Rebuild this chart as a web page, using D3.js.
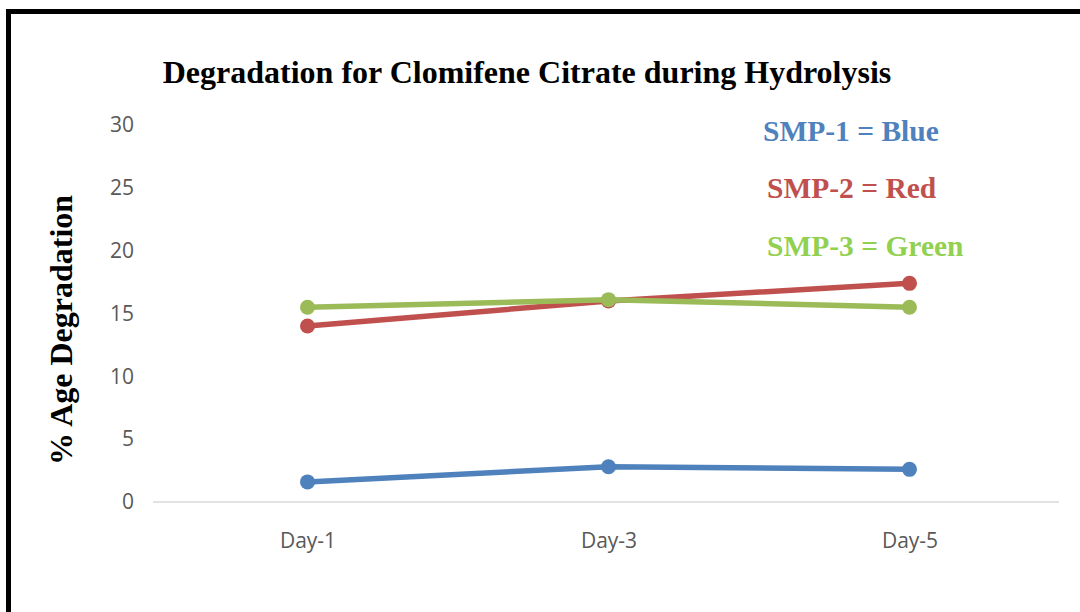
<!DOCTYPE html>
<html>
<head>
<meta charset="utf-8">
<script src="https://cdn.jsdelivr.net/npm/d3@7"></script>
<style>
  html, body { margin: 0; padding: 0; background: #fff; }
  svg { display: block; }
</style>
</head>
<body>
<div id="chart"></div>
<script>
const categories = ["Day-1", "Day-3", "Day-5"];
const smp1 = [1.6, 2.8, 2.6];
const smp2 = [14.0, 16.0, 17.4];
const smp3 = [15.5, 16.1, 15.5];
const yTicks = [0, 5, 10, 15, 20, 25, 30];
const seriesNames = ["SMP-1", "SMP-2", "SMP-3"];
const legendLabels = ["SMP-1 = Blue", "SMP-2 = Red", "SMP-3 = Green"];
const titleText = "Degradation for Clomifene Citrate during Hydrolysis";
const yTitleText = "% Age Degradation";

const W = 1080, H = 612;
const lineColors = ["#4F81BD", "#C0504D", "#9BBB59"];
const textColors = ["#4F81BD", "#C0504D", "#92D050"];

const svg = d3.select("#chart").append("svg")
  .attr("width", W).attr("height", H);

svg.append("rect").attr("width", W).attr("height", H).attr("fill", "#fff");

// outer frame (right & bottom edges run off the picture)
svg.append("rect")
  .attr("x", 8.5).attr("y", 11.5)
  .attr("width", 1200).attr("height", 800)
  .attr("fill", "none").attr("stroke", "#000").attr("stroke-width", 5);

const x = d3.scalePoint().domain(categories).range([157, 1060]).padding(0.5);
const y = d3.scaleLinear().domain([0, 30]).range([502, 125]);

// baseline gridline at 0
svg.append("line")
  .attr("x1", 153).attr("x2", 1059)
  .attr("y1", y(0)).attr("y2", y(0))
  .attr("stroke", "#D9D9D9").attr("stroke-width", 1.5);

// y axis labels
const yAxis = svg.append("g")
  .attr("transform", "translate(153,0)")
  .call(d3.axisLeft(y).tickValues(yTicks).tickSize(0).tickPadding(19).tickFormat(d3.format("d")));
yAxis.select(".domain").remove();
yAxis.selectAll("text")
  .attr("fill", "#595959")
  .style("font-family", "'Open Sans', sans-serif")
  .style("font-size", "21px");

// x axis labels
const xAxis = svg.append("g")
  .attr("transform", `translate(0,${y(0)})`)
  .call(d3.axisBottom(x).tickSize(0).tickPadding(31));
xAxis.select(".domain").remove();
xAxis.selectAll("text")
  .attr("fill", "#595959")
  .style("font-family", "'Open Sans', sans-serif")
  .style("font-size", "21px");

// series
const allSeries = [smp1, smp2, smp3];
const line = d3.line().x((d, i) => x(categories[i])).y(d => y(d));
allSeries.forEach((vals, si) => {
  const g = svg.append("g").attr("class", "series-" + seriesNames[si]);
  g.append("path")
    .datum(vals)
    .attr("d", line)
    .attr("fill", "none")
    .attr("stroke", lineColors[si])
    .attr("stroke-width", 5.5)
    .attr("stroke-linejoin", "round")
    .attr("stroke-linecap", "round");
  g.selectAll("circle")
    .data(vals)
    .enter().append("circle")
    .attr("cx", (d, i) => x(categories[i]))
    .attr("cy", d => y(d))
    .attr("r", 7.5)
    .attr("fill", lineColors[si]);
});

// title
svg.append("text")
  .attr("x", 527).attr("y", 83)
  .attr("text-anchor", "middle")
  .style("font-family", "'Liberation Serif', 'Times New Roman', serif")
  .style("font-weight", "bold")
  .style("font-size", "32px")
  .attr("fill", "#000")
  .text(titleText);

// y axis title
svg.append("text")
  .attr("transform", "translate(72,330) rotate(-90)")
  .attr("text-anchor", "middle")
  .style("font-family", "'Liberation Serif', 'Times New Roman', serif")
  .style("font-weight", "bold")
  .style("font-size", "32px")
  .attr("fill", "#000")
  .text(yTitleText);

// text legend
const legendPos = [[763, 141], [767, 198], [767, 256]];
legendLabels.forEach((t, i) => {
  svg.append("text")
    .attr("x", legendPos[i][0]).attr("y", legendPos[i][1])
    .style("font-family", "'Liberation Serif', 'Times New Roman', serif")
    .style("font-weight", "bold")
    .style("font-size", "29.5px")
    .attr("fill", textColors[i])
    .text(t);
});
</script>
</body>
</html>
